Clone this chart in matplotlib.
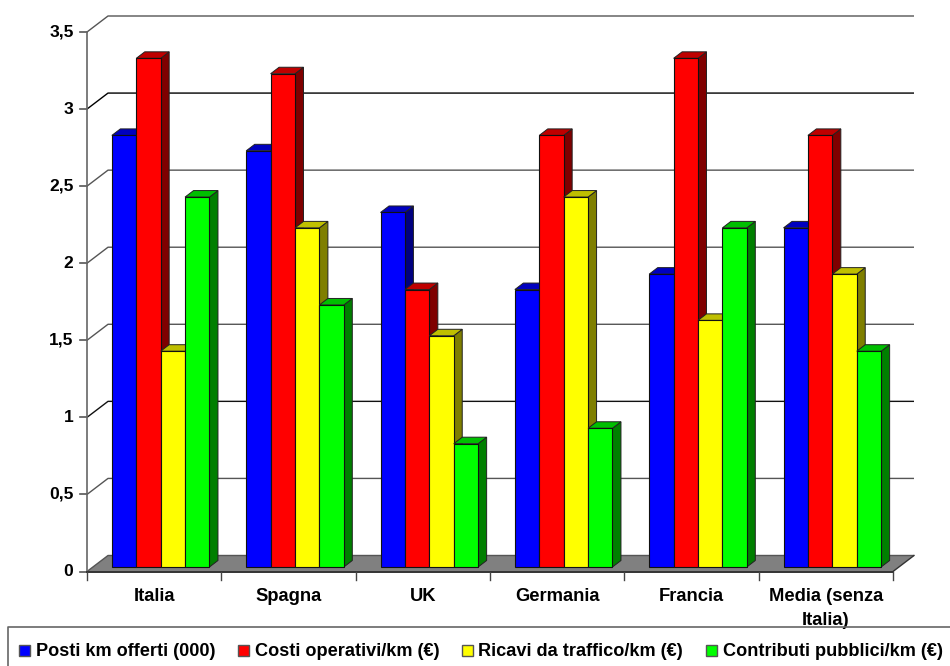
import matplotlib
matplotlib.use("Agg")
import matplotlib.pyplot as plt
from matplotlib.patches import Polygon, Rectangle
from matplotlib.lines import Line2D

plt.rcParams['font.family'] = ['Liberation Sans', 'DejaVu Sans']

categories = ['Italia', 'Spagna', 'UK', 'Germania', 'Francia', 'Media (senza\nItalia)']
posti = [2.8, 2.7, 2.3, 1.8, 1.9, 2.2]
costi = [3.3, 3.2, 1.8, 2.8, 3.3, 2.8]
ricavi = [1.4, 2.2, 1.5, 2.4, 1.6, 1.9]
contributi = [2.4, 1.7, 0.8, 0.9, 2.2, 1.4]
series_names = ['Posti km offerti (000)', 'Costi operativi/km (€)',
                'Ricavi da traffico/km (€)', 'Contributi pubblici/km (€)']
series_values = [posti, costi, ricavi, contributi]
front_colors = ['#0000ff', '#ff0000', '#ffff00', '#00ff00']
top_colors = ['#0000bf', '#bf0000', '#bfbf00', '#00bf00']
side_colors = ['#00007f', '#7f0000', '#7f7f00', '#007f00']
y_ticks = [0, 0.5, 1, 1.5, 2, 2.5, 3, 3.5]
y_labels = ['0', '0,5', '1', '1,5', '2', '2,5', '3', '3,5']
grid_colors = ['#555555', '#555555', '#111111', '#555555', '#555555', '#555555', '#000000', '#555555']

W, H = 950, 666
fig = plt.figure(figsize=(W / 100, H / 100), dpi=100)
x0, x1, y0, y1 = 87.0, 893.0, 571.5, 32.0
ax = fig.add_axes([x0 / W, 1 - y0 / H, (x1 - x0) / W, (y0 - y1) / H])
ax.set_xlim(-0.5, 5.5)
ax.set_ylim(0, 3.5)
ax.axis('off')

ux = 6 / (x1 - x0)        # data units per pixel
uy = 3.5 / (y0 - y1)
left, right = -0.5, 5.5
wall_dx, wall_dy = 21 * ux, 16 * uy

# floor
ax.add_patch(Polygon([(left, 0), (left + wall_dx, wall_dy), (right + wall_dx, wall_dy), (right, 0)],
                     closed=True, fc='#808080', ec='none', zorder=1, clip_on=False))

# gridlines with perspective stubs
for t, lab, c in zip(y_ticks, y_labels, grid_colors):
    ax.plot([left, left + wall_dx, right + wall_dx], [t, t + wall_dy, t + wall_dy],
            color=c, lw=1.0, zorder=2 if t > 0 else 1.5, clip_on=False, solid_capstyle='butt')
    ax.plot([left - 7.5 * ux, left], [t, t], color='#555555', lw=1.2, zorder=3, clip_on=False)
    ax.text(left - 13.5 * ux, t, lab, ha='right', va='center',
            fontsize=12.6, fontweight='bold', color='black')

# axes lines and category ticks
ax.plot([left, left], [0, 3.5], color='#666666', lw=1.2, zorder=3, clip_on=False)
ax.plot([left, right], [0, 0], color='#333333', lw=1.4, zorder=3, clip_on=False)
ax.plot([right, right + wall_dx], [0, wall_dy], color='#333333', lw=1.0, zorder=3, clip_on=False)
for i in range(len(categories) + 1):
    ax.plot([left + i, left + i], [0, -8 * uy], color='#444444', lw=1.0, zorder=3, clip_on=False)

# bars
bar_w = 24.4 * ux
shift_x, base = 6.5 * ux, 4.5 * uy
dx, dy = 8.5 * ux, 6.5 * uy
n = len(series_values)
z = 5
for i in range(len(categories)):
    for s, vals in enumerate(series_values):
        xl = i + shift_x + (s - n / 2) * bar_w
        xr = xl + bar_w
        v = vals[i] + base
        ax.add_patch(Polygon([(xr, base), (xr + dx, base + dy), (xr + dx, v + dy), (xr, v)],
                             closed=True, fc=side_colors[s], ec='#222222', lw=0.7, zorder=z))
        ax.add_patch(Polygon([(xl, v), (xl + dx, v + dy), (xr + dx, v + dy), (xr, v)],
                             closed=True, fc=top_colors[s], ec='#222222', lw=0.7, zorder=z))
        ax.bar(xl, vals[i], bar_w, bottom=base, align='edge', color=front_colors[s],
               edgecolor='#111111', linewidth=0.8, zorder=z + 0.5)
        z += 1

# category labels
for i, c in enumerate(categories):
    ax.text(i, -(588 - 571.5) * uy, c, ha='center', va='top', fontsize=13.2, fontweight='bold',
            linespacing=1.55, color='black', clip_on=False)

# legend frame: open at the right and bottom edges of the picture
fig.add_artist(Line2D([8 / W, 8 / W, 1], [0, 1 - 627 / H, 1 - 627 / H], transform=fig.transFigure,
                      color='#666666', lw=1.2))
leg_sw = [19, 238, 461.5, 706]
leg_tx = [36, 255, 478, 723]
for name, c, sx, tx in zip(series_names, front_colors, leg_sw, leg_tx):
    fig.add_artist(Rectangle((sx / W, 1 - 656 / H), 11 / W, 11 / H, transform=fig.transFigure,
                             fc=c, ec='#555555', lw=1.0))
    fig.text(tx / W, 1 - 652 / H, name, ha='left', va='center', fontsize=13.1, fontweight='bold', color='black')

fig.savefig('out.png', dpi=100, facecolor='white')
